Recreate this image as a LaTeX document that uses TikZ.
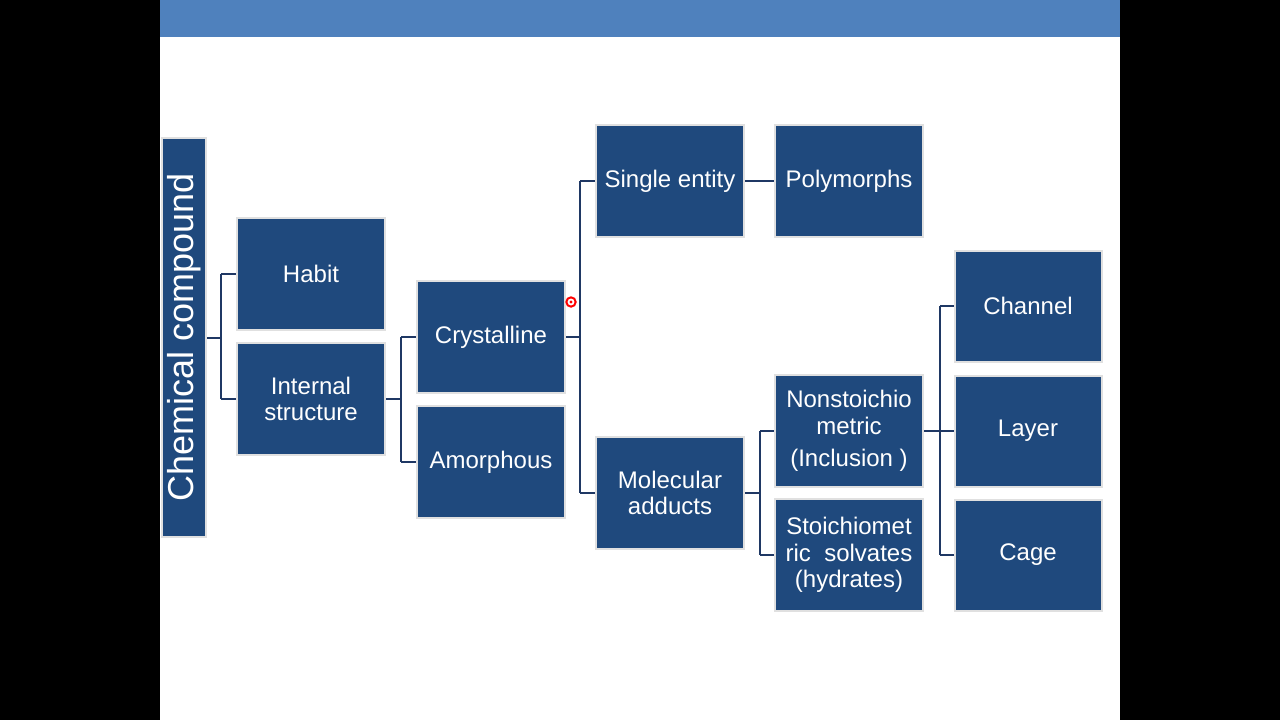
\documentclass[tikz,border=0pt]{standalone}
\usepackage{fontspec}
\setmainfont{Liberation Sans}
\begin{document}
\begin{tikzpicture}[x=0.75pt,y=-0.75pt,
  box/.style={draw=white!88!black,line width=1.5pt,fill=boxc,text=white,inner sep=1pt,align=center,font=\fontsize{18}{20}\selectfont},
  conn/.style={draw=linec,line width=1.5pt}]
\definecolor{boxc}{HTML}{1F497D}
\definecolor{linec}{HTML}{1F3864}
\definecolor{barc}{HTML}{4F81BD}
\useasboundingbox (0,0) rectangle (1280,720);
\fill[black] (0,0) rectangle (1280,720);
\fill[white] (160,0) rectangle (1120,720);
\fill[barc] (160,0) rectangle (1120,37);
\newcommand{\bx}[6]{\node[box,minimum width=#4-#2,minimum height=#5-#3] (#1) at ({(#2+#4)/2},{(#3+#5)/2}) {#6};}
\node[box,minimum width=44*0.75pt,minimum height=399*0.75pt] (cc) at (184,337.5) {};
\node[text=white,rotate=90,font=\fontsize{27}{30}\selectfont] (cct) at (cc.center) {Chemical compound};
\node[box,minimum width=148*0.75pt,minimum height=112*0.75pt] (hab) at (311,274) {Habit};
\node[box,minimum width=148*0.75pt,minimum height=112*0.75pt] (int) at (311,399) {Internal\\structure};
\node[box,minimum width=148*0.75pt,minimum height=112*0.75pt] (cry) at (491,337) {Crystalline};
\node[box,minimum width=148*0.75pt,minimum height=112*0.75pt] (amo) at (491,462) {Amorphous};
\node[box,minimum width=148*0.75pt,minimum height=112*0.75pt] (sin) at (670,181) {Single entity};
\node[box,minimum width=148*0.75pt,minimum height=112*0.75pt] (pol) at (849,181) {Polymorphs};
\node[box,minimum width=148*0.75pt,minimum height=112*0.75pt] (mol) at (670,493) {Molecular\\adducts};
\node[box,minimum width=148*0.75pt,minimum height=112*0.75pt] (non) at (849,431) {Nonstoichio\\metric\\[4pt](Inclusion )};
\node[box,minimum width=148*0.75pt,minimum height=112*0.75pt] (sto) at (849,555) {Stoichiomet\\ric\ \ solvates\\(hydrates)};
\node[box,minimum width=147*0.75pt,minimum height=111*0.75pt] (cha) at (1028,306) {Channel};
\node[box,minimum width=147*0.75pt,minimum height=111*0.75pt] (lay) at (1028,431) {Layer};
\node[box,minimum width=147*0.75pt,minimum height=111*0.75pt] (cag) at (1028,555) {Cage};
\draw[conn] (cc.east) -- (221,337.5) (221,274) -- (hab.west) (221,399) -- (int.west) (221,274) -- (221,399);
\draw[conn] (int.east) -- (401,399) (401,337) -- (cry.west) (401,462) -- (amo.west) (401,337) -- (401,462);
\draw[conn] (cry.east) -- (580,337) (580,181) -- (sin.west) (580,493) -- (mol.west) (580,181) -- (580,493);
\draw[conn] (sin) -- (pol);
\draw[conn] (mol.east) -- (760,493) (760,431) -- (non.west) (760,555) -- (sto.west) (760,431) -- (760,555);
\draw[conn] (non.east) -- (940,431) (940,306) -- (cha.west) (940,431) -- (lay.west) (940,555) -- (cag.west) (940,306) -- (940,555);
\node[circle,draw=red,fill=white,line width=1.5pt,inner sep=0pt,minimum size=7pt] (dot) at (571,302) {};
\fill[red] (dot.center) circle (1.3pt);
\end{tikzpicture}
\end{document}
